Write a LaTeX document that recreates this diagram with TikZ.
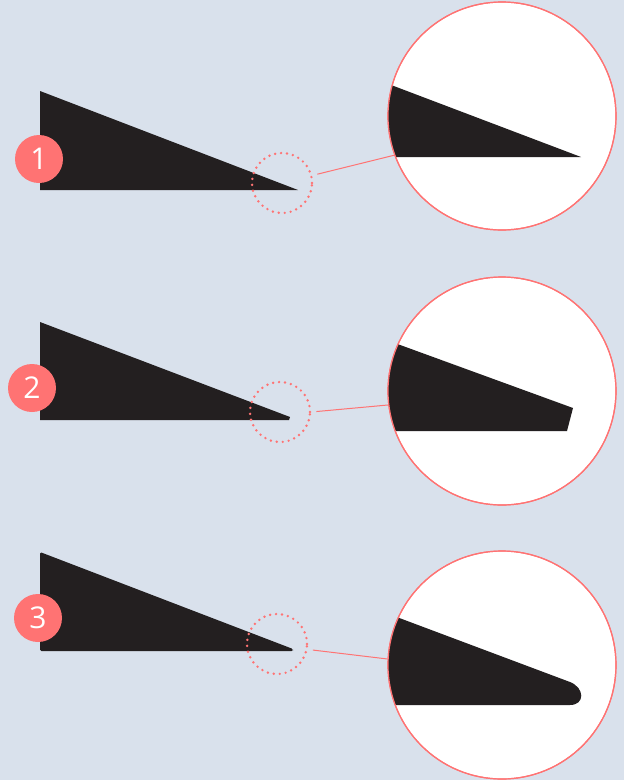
\documentclass[tikz,border=0pt]{standalone}
\usepackage{fontspec}
\setmainfont{Open Sans}
\definecolor{bg}{HTML}{D9E1EC}
\definecolor{ink}{HTML}{231F20}
\definecolor{rose}{HTML}{FF7373}
\begin{document}
\begin{tikzpicture}[x=1pt,y=-1pt,
  numdot/.style={circle,fill=rose,inner sep=0pt,minimum size=48pt,text=white,font=\fontsize{30}{30}\selectfont},
  spot/.style={circle,draw=rose,line width=2.7pt,dash pattern=on 0pt off 6pt,line cap=round,inner sep=0pt,minimum size=60pt},
  lens/.style={circle,draw=rose,line width=1.2pt,fill=white,inner sep=0pt,minimum size=228pt},
  link/.style={draw=rose,line width=1pt,shorten <=5pt},
  wedge/.style={fill=ink}]
\fill[bg] (0,0) rectangle (624,780);
\useasboundingbox (0,0) rectangle (624,780);

% ---------- panel 1 ----------
\fill[wedge] (40,91) -- (298,190) -- (40,190) -- cycle;
\node[numdot] (n1) at (39,159) {1};
\node[spot] (s1) at (282,183) {};
\node[lens] (m1) at (502,116) {};
\begin{scope}
  \clip (502,116) circle[radius=114];
  \fill[wedge] (370,77) -- (581,157) -- (370,157) -- cycle;
\end{scope}
\node[lens,fill=none] at (m1) {};
\draw[link] (s1.14) -- (m1.200);

% ---------- panel 2 ----------
\fill[wedge] (40,322) -- (290,417) -- (289,420) -- (40,420) -- cycle;
\node[numdot] (n2) at (32,388) {2};
\node[spot] (s2) at (280,412) {};
\node[lens] (m2) at (502,391) {};
\begin{scope}
  \clip (502,391) circle[radius=114];
  \fill[wedge] (370,334) -- (573,408) -- (567,431) -- (370,431) -- cycle;
\end{scope}
\node[lens,fill=none] at (m2) {};
\draw[link] (s2.0) -- (m2.187);

% ---------- panel 3 ----------
\fill[wedge,rounded corners=1.5pt] (40,552) -- (293,649) -- (293,651) -- (40,651) -- cycle;
\node[numdot] (n3) at (38,618) {3};
\node[spot] (s3) at (277,644) {};
\node[lens] (m3) at (502,665) {};
\begin{scope}
  \clip (502,665) circle[radius=114];
  \fill[wedge] (370,607) -- (570,682) .. controls (585,688) and (585,705) .. (570,705) -- (370,705) -- cycle;
\end{scope}
\node[lens,fill=none] at (m3) {};
\draw[link] (s3.-10) -- (m3.177.5);
\end{tikzpicture}
\end{document}
